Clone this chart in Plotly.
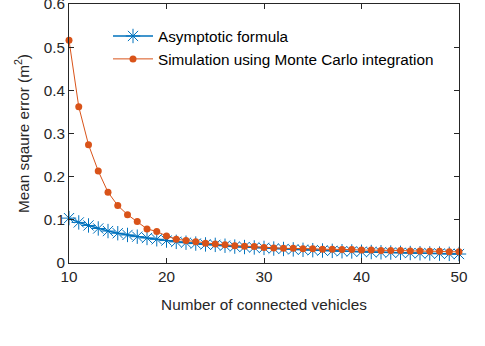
import plotly.graph_objects as go

vehicles = list(range(10, 51))
asymptotic = [0.104, 0.094, 0.087, 0.080, 0.074, 0.069, 0.065, 0.061, 0.058, 0.055,
              0.052, 0.049, 0.047, 0.045, 0.043, 0.042, 0.040, 0.038, 0.037, 0.036,
              0.035, 0.0335, 0.0325, 0.0315, 0.0305, 0.0297, 0.0289, 0.0281, 0.0273,
              0.0267, 0.026, 0.0254, 0.0248, 0.0242, 0.0236, 0.0231, 0.0226, 0.0221,
              0.0217, 0.0212, 0.0208]
simulation = [0.516, 0.362, 0.274, 0.213, 0.164, 0.133, 0.112, 0.096, 0.079, 0.073,
              0.0625, 0.055, 0.052, 0.049, 0.046, 0.044, 0.042, 0.040, 0.039, 0.038,
              0.036, 0.035, 0.034, 0.034, 0.033, 0.033, 0.032, 0.032, 0.031, 0.031,
              0.030, 0.030, 0.029, 0.029, 0.029, 0.028, 0.028, 0.027, 0.027, 0.026, 0.026]

xticks = [10, 20, 30, 40, 50]
yticks = [0, 0.1, 0.2, 0.3, 0.4, 0.5, 0.6]
ytick_labels = ["0", "0.1", "0.2", "0.3", "0.4", "0.5", "0.6"]

BLUE = "#0072BD"
ORANGE = "#D95319"
AX = "#262626"
FONT = "Liberation Sans, Arial, sans-serif"
FS = 15.3

fig = go.Figure()
fig.add_trace(go.Scatter(
    x=vehicles, y=asymptotic, mode="lines+markers", name="Asymptotic formula",
    line=dict(color=BLUE, width=1.5),
    marker=dict(symbol="asterisk-open", size=12, color=BLUE, line=dict(color=BLUE, width=1)),
    cliponaxis=False,
))
fig.add_trace(go.Scatter(
    x=vehicles, y=simulation, mode="lines+markers", name="Simulation using Monte Carlo integration",
    line=dict(color=ORANGE, width=1),
    marker=dict(symbol="circle", size=7, color=ORANGE),
    cliponaxis=False,
))

axis_common = dict(
    showgrid=False, zeroline=False, showline=True, linecolor=AX, linewidth=1,
    mirror="ticks", ticks="inside", ticklen=5, tickcolor=AX, tickwidth=1,
    tickfont=dict(family=FONT, size=FS, color=AX), automargin=False,
    ticklabeloverflow="allow",
)

fig.update_layout(
    width=485, height=346,
    margin=dict(l=69, r=26, t=4, b=83, autoexpand=False),
    paper_bgcolor="white", plot_bgcolor="white",
    font=dict(family=FONT, size=FS, color=AX),
    showlegend=True,
    legend=dict(
        x=0.1, y=0.94, xanchor="left", yanchor="top",
        bgcolor="rgba(0,0,0,0)", borderwidth=0,
        font=dict(family=FONT, size=FS, color="#000000"),
        tracegroupgap=0, itemwidth=40,
    ),
    xaxis=dict(range=[10, 50], tickvals=xticks, title=dict(text="Number of connected vehicles", standoff=14,
               font=dict(family=FONT, size=FS, color=AX)), **axis_common),
    yaxis=dict(range=[0, 0.6], tickvals=yticks, ticktext=ytick_labels,
               title=dict(text="Mean sqaure error (m<sup>2</sup>)", standoff=10,
                          font=dict(family=FONT, size=FS, color=AX)), **axis_common),
)

fig.write_html("out.html",
               config={"displayModeBar": False},
               post_script="document.body.style.margin='0';document.body.style.overflow='hidden';")
